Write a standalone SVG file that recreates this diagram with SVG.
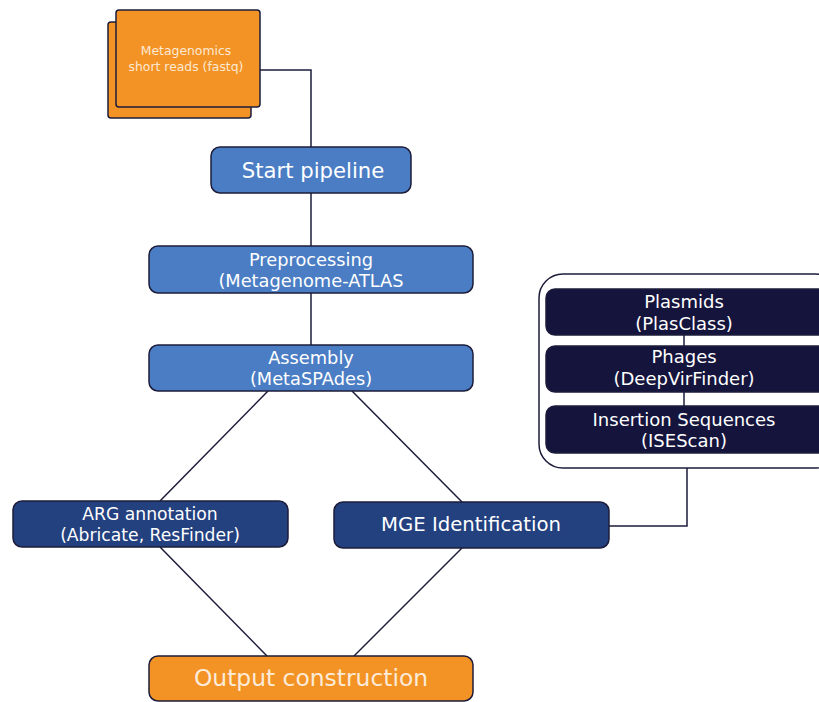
<svg xmlns="http://www.w3.org/2000/svg" width="819" height="702" viewBox="0 0 819 702">
<style>
.t{font-family:"DejaVu Sans",Verdana,sans-serif;text-anchor:middle;fill:#ffffff}
.or{fill:#F39325;stroke:#1c1c3a;stroke-width:1.5}
.bl{fill:#4A7DC4;stroke:#1c1c3a;stroke-width:1.5}
.db{fill:#23407F;stroke:#1c1c3a;stroke-width:1.5}
.nv{fill:#14143C;stroke:#1c1c3a;stroke-width:1.5}
.c{fill:none;stroke:#1c1c3a;stroke-width:1.5}
</style>
<rect width="819" height="702" fill="#ffffff"/>
<g id="mge-group">
<rect x="539" y="274" width="300" height="194" rx="24" fill="#ffffff" stroke="#1c1c3a" stroke-width="1.5"/>
</g>
<g id="connectors">
<polyline class="c" points="260,70 311,70 311,147"/>
<line class="c" x1="311" y1="193" x2="311" y2="246"/>
<line class="c" x1="311" y1="293" x2="311" y2="345"/>
<line class="c" x1="268" y1="391" x2="160" y2="501"/>
<line class="c" x1="352" y1="391" x2="462" y2="502"/>
<line class="c" x1="160" y1="547" x2="267" y2="656"/>
<line class="c" x1="462" y1="548" x2="354" y2="656"/>
<line class="c" x1="684" y1="335" x2="684" y2="346"/>
<line class="c" x1="684" y1="392" x2="684" y2="406"/>
<polyline class="c" points="687,468 687,526 609,526"/>
</g>
<g id="input">
<rect class="or" x="108" y="22" width="143" height="96" rx="3"/>
<rect class="or" x="116" y="10" width="144" height="97" rx="3"/>
<text class="t" x="186" y="55" font-size="12.4" style="fill:#FCE9D4">Metagenomics</text>
<text class="t" x="186" y="71" font-size="12.4" style="fill:#FCE9D4">short reads (fastq)</text>
</g>
<g id="start">
<rect class="bl" x="211" y="147" width="200" height="46" rx="9"/>
<text class="t" x="313" y="178" font-size="21.2">Start pipeline</text>
</g>
<g id="preprocessing">
<rect class="bl" x="149" y="246" width="324" height="47" rx="9"/>
<text class="t" x="311" y="266" font-size="17.8">Preprocessing</text>
<text class="t" x="311" y="287" font-size="17.8">(Metagenome-ATLAS</text>
</g>
<g id="assembly">
<rect class="bl" x="149" y="345" width="324" height="46" rx="9"/>
<text class="t" x="311" y="364" font-size="17.8">Assembly</text>
<text class="t" x="311" y="385" font-size="17.8">(MetaSPAdes)</text>
</g>
<g id="plasmids">
<rect class="nv" x="546" y="289" width="290" height="46" rx="9"/>
<text class="t" x="684" y="308" font-size="18">Plasmids</text>
<text class="t" x="684" y="330" font-size="18">(PlasClass)</text>
</g>
<g id="phages">
<rect class="nv" x="546" y="346" width="290" height="46" rx="9"/>
<text class="t" x="684" y="363" font-size="18">Phages</text>
<text class="t" x="684" y="385" font-size="18">(DeepVirFinder)</text>
</g>
<g id="insertion">
<rect class="nv" x="546" y="406" width="290" height="47" rx="9"/>
<text class="t" x="684" y="426" font-size="18">Insertion Sequences</text>
<text class="t" x="684" y="447" font-size="18">(ISEScan)</text>
</g>
<g id="arg">
<rect class="db" x="13" y="501" width="275" height="46" rx="9"/>
<text class="t" x="150" y="520" font-size="17.2">ARG annotation</text>
<text class="t" x="150" y="541" font-size="17.2">(Abricate, ResFinder)</text>
</g>
<g id="mge">
<rect class="db" x="334" y="502" width="275" height="46" rx="9"/>
<text class="t" x="471" y="531" font-size="19.7">MGE Identification</text>
</g>
<g id="output">
<rect class="or" x="149" y="656" width="324" height="45" rx="9"/>
<text class="t" x="311" y="686" font-size="23.4" style="fill:#FCEBD8">Output construction</text>
</g>
</svg>
